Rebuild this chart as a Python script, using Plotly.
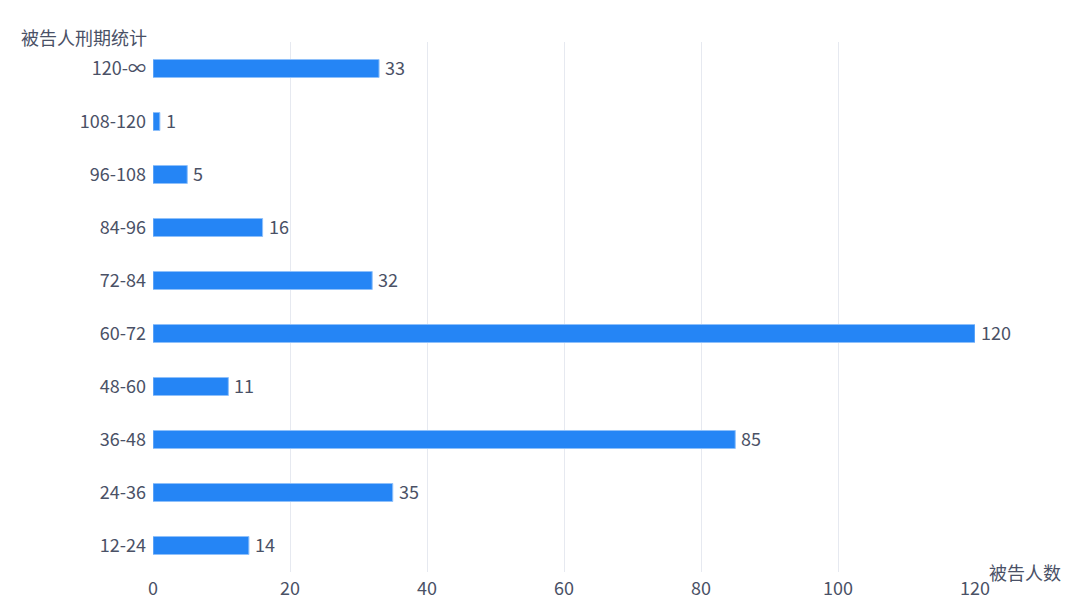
import plotly.graph_objects as go

categories = ["12-24", "24-36", "36-48", "48-60", "60-72", "72-84", "84-96", "96-108", "108-120", "120-∞"]
values = [14, 35, 85, 11, 120, 32, 16, 5, 1, 33]
x_ticks = [0, 20, 40, 60, 80, 100, 120]
y_title = "被告人刑期统计"
x_title = "被告人数"

font_family = "Noto Sans CJK SC, Noto Sans, sans-serif"
text_color = "#4a5166"
fs = 18

fig = go.Figure(go.Bar(
    x=values, y=categories, orientation="h",
    marker=dict(color="#2585f5", line=dict(color="#8fc0fa", width=1)),
    width=0.34,
    cliponaxis=False,
))

value_labels = [
    dict(text=str(v), x=v, y=c, xref="x", yref="y", xanchor="left", yanchor="middle",
         xshift=4, yshift=2, showarrow=False, font=dict(size=fs, color=text_color))
    for v, c in zip(values, categories)
]

fig.update_layout(
    width=1080, height=616,
    margin=dict(l=145, r=113, t=34, b=52, autoexpand=False),
    plot_bgcolor="white", paper_bgcolor="white",
    font=dict(family=font_family, size=fs, color=text_color),
    showlegend=False,
    xaxis=dict(range=[0, 120], tickvals=x_ticks, showgrid=True, gridcolor="#e6e9f0",
               gridwidth=1, zeroline=False, showline=False, ticks="", ticklabelstandoff=4,
               tickfont=dict(size=fs, color=text_color)),
    yaxis=dict(categoryorder="array", categoryarray=categories, showgrid=False,
               zeroline=False, showline=False, ticks="", ticklabelstandoff=6,
               tickfont=dict(size=fs, color=text_color)),
    annotations=value_labels + [
        dict(text=y_title, xref="paper", yref="paper", x=0, y=1, xanchor="right", yanchor="middle",
             xshift=-4, yshift=5, showarrow=False, font=dict(size=fs, color=text_color)),
        dict(text=x_title, xref="paper", yref="paper", x=1, y=0, xanchor="left", yanchor="middle",
             xshift=12, yshift=0, showarrow=False, font=dict(size=fs, color=text_color)),
    ],
)

fig.write_html("out.html")
